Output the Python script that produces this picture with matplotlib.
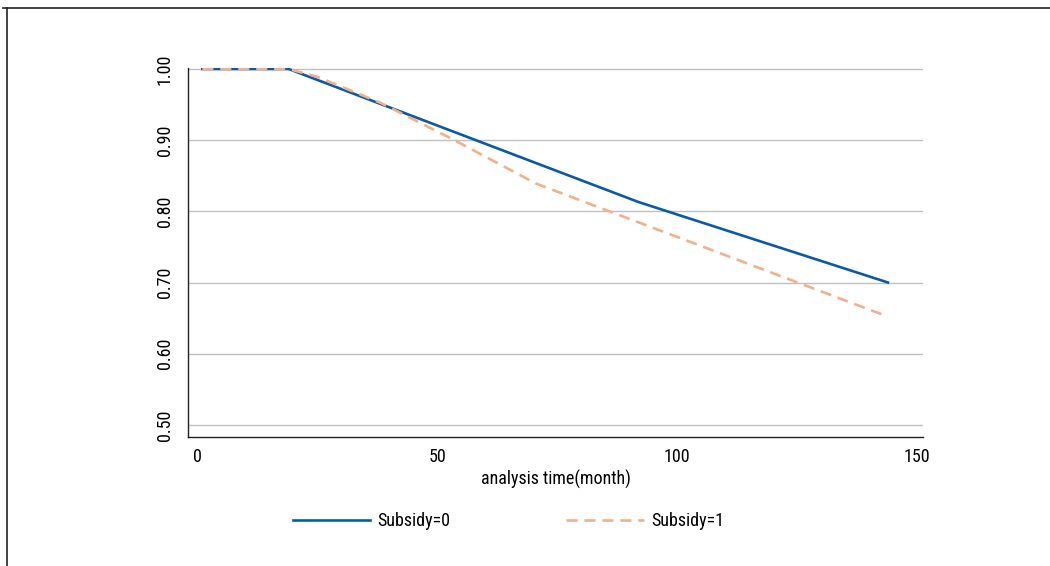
import matplotlib
matplotlib.use("Agg")
import matplotlib.pyplot as plt
from matplotlib.lines import Line2D

plt.rcParams["font.family"] = ["Roboto Condensed", "Liberation Sans Narrow", "DejaVu Sans"]
plt.rcParams["font.stretch"] = "condensed"
plt.rcParams["font.size"] = 13

# survival estimates
t0 = [1, 19, 92, 144]
s0 = [1.0, 1.0, 0.813, 0.70]

t1 = [1, 19, 25, 38, 53, 70.6, 144]
s1 = [1.0, 1.0, 0.989, 0.953, 0.902, 0.839, 0.652]

labels = ["Subsidy=0", "Subsidy=1"]
xticks = [0, 50, 100, 150]
yticks = [0.5, 0.6, 0.7, 0.8, 0.9, 1.0]

blue = "#0a5aa8"
salmon = "#f4b08a"
dash = (0, (4.2, 2.6))

fig = plt.figure(figsize=(10.5, 5.66), dpi=100)
ax = fig.add_axes([0.179, 0.228, 0.700, 0.652])

ax.plot(t0, s0, color=blue, lw=1.9, label=labels[0], zorder=3)
ax.plot(t1, s1, color=salmon, lw=1.9, ls=dash, label=labels[1], zorder=4)

ax.set_xlim(-2, 151.3)
ax.set_ylim(0.483, 1.0015)
ax.set_xticks(xticks)
ax.set_xticklabels([str(v) for v in xticks])
ax.set_yticks(yticks)
ax.set_yticklabels([f"{v:.2f}" for v in yticks], rotation=90, va="center")
ax.tick_params(axis="y", length=0, pad=10)
ax.tick_params(axis="x", length=0, pad=8)
ax.grid(axis="y", color="#c0c0c0", lw=1)
ax.set_axisbelow(True)
for side in ["top", "right"]:
    ax.spines[side].set_visible(False)
for side in ["left", "bottom"]:
    ax.spines[side].set_color("#222222")
    ax.spines[side].set_linewidth(1)

ax.set_xlabel("analysis time(month)", labelpad=3)

handles = [Line2D([], [], color=blue, lw=1.9),
           Line2D([], [], color=salmon, lw=1.9, ls=dash)]
fig.legend(handles, labels, loc="center", bbox_to_anchor=(0.484, 0.079),
           ncol=2, frameon=False, handlelength=4.3, columnspacing=6.4,
           handletextpad=0.4)

# partial border of the source image
fig.add_artist(Line2D([0.003, 1.0], [1 - 7.5 / 566, 1 - 7.5 / 566],
                      transform=fig.transFigure, color="#222222", lw=1.2))
fig.add_artist(Line2D([7 / 1050, 7 / 1050], [0, 1 - 7.5 / 566],
                      transform=fig.transFigure, color="#222222", lw=1.2))

fig.savefig("out.png", dpi=100)
